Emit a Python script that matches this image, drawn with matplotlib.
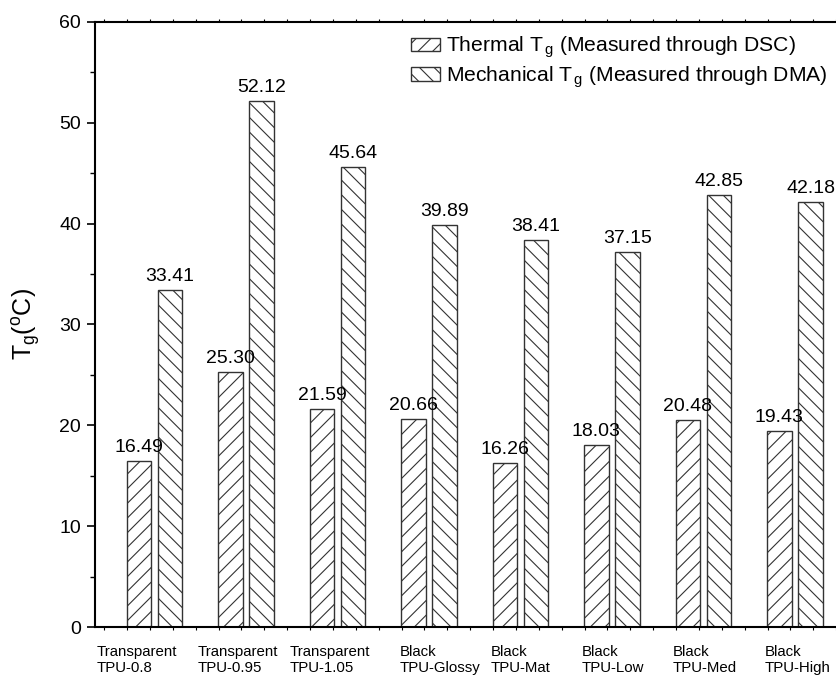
import matplotlib
matplotlib.use("Agg")
import matplotlib.pyplot as plt
import numpy as np

plt.rcParams["font.family"] = ["Liberation Sans", "DejaVu Sans"]
plt.rcParams["mathtext.fontset"] = "custom"
plt.rcParams["mathtext.rm"] = "Liberation Sans"
plt.rcParams["mathtext.it"] = "Liberation Sans:italic"

categories = [
    "Transparent\nTPU-0.8",
    "Transparent\nTPU-0.95",
    "Transparent\nTPU-1.05",
    "Black\nTPU-Glossy",
    "Black\nTPU-Mat",
    "Black\nTPU-Low",
    "Black\nTPU-Med",
    "Black\nTPU-High",
]
thermal_tg = [16.49, 25.30, 21.59, 20.66, 16.26, 18.03, 20.48, 19.43]
mechanical_tg = [33.41, 52.12, 45.64, 39.89, 38.41, 37.15, 42.85, 42.18]
legend_labels = [
    r"Thermal T$_{\,\mathrm{g}}$ (Measured through DSC)",
    r"Mechanical T$_{\,\mathrm{g}}$ (Measured through DMA)",
]
# left edge of each category label, relative to the group centre
label_dx = [-0.63, -0.53, -0.52, -0.32, -0.33, -0.33, -0.34, -0.33]

# lower dpi makes the hatching denser; K keeps sizes as if at 100 dpi
DPI = 88
K = 100 / DPI
plt.rcParams["hatch.linewidth"] = 0.8 * K

fig = plt.figure(figsize=(836 / DPI, 679 / DPI), dpi=DPI)
# axes run past the right edge of the figure, like the cropped original
ax = fig.add_axes([95 / 836, 52 / 679, 800 / 836, 605 / 679])

x = np.arange(len(categories))
w = 0.268
off = 0.17
b1 = ax.bar(x - off, thermal_tg, w, color="white", edgecolor="#333333",
            linewidth=1.0 * K, hatch="//", label=legend_labels[0])
b2 = ax.bar(x + off, mechanical_tg, w, color="white", edgecolor="#333333",
            linewidth=1.0 * K, hatch="\\\\", label=legend_labels[1])

for rects, vals in [(b1, thermal_tg), (b2, mechanical_tg)]:
    for r, v in zip(rects, vals):
        ax.text(r.get_x() + r.get_width() / 2, v + 0.5, f"{v:.2f}",
                ha="center", va="bottom", fontsize=14 * K)

ax.set_yticks(np.arange(0, 61, 10))
ax.set_yticks(np.arange(5, 60, 10), minor=True)
ax.tick_params(axis="y", which="major", direction="out", length=6 * K,
               width=1.2 * K, labelsize=14 * K, pad=4 * K)
ax.tick_params(axis="y", which="minor", direction="out", length=3.5 * K,
               width=1.0 * K)

# small unlabelled ticks along the category axis
ax.set_xticks(np.arange(-0.55, len(categories) + 1, 0.25))
ax.set_xticklabels([])
ax.tick_params(axis="x", which="major", direction="out", length=2.5 * K,
               width=0.8 * K, top=True, labeltop=False)

# limits after the ticks, so set_xticks cannot widen them
ax.set_xlim(-0.65, -0.65 + 800 / 91.5)
ax.set_ylim(0, 60)

for s in ["left", "bottom", "top", "right"]:
    ax.spines[s].set_linewidth(1.5 * K)

# category labels below the axis
for i, c in enumerate(categories):
    ax.text(i + label_dx[i], -1.8, c, ha="left", va="top",
            fontsize=10.8 * K, linespacing=1.2)

ax.set_ylabel(r"T$_\mathrm{g}$($^\mathrm{o}$C)", fontsize=18 * K,
              labelpad=12 * K)

ax.legend(handles=[b1, b2], loc="upper left", frameon=False,
          fontsize=15.2 * K,
          bbox_to_anchor=(400 / 836, 1 - 24 / 679),
          bbox_transform=fig.transFigure, handlelength=1.4, handleheight=0.6,
          handletextpad=0.3, labelspacing=0.2, borderpad=0)

fig.savefig("out.png", dpi=DPI)
